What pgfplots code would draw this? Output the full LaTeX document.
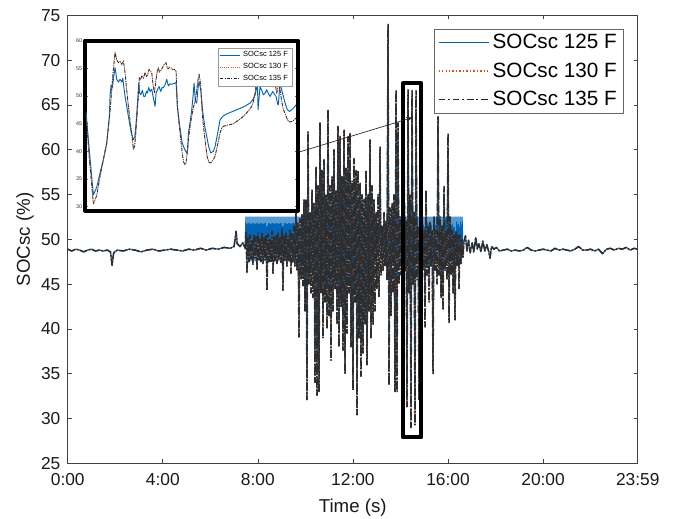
\documentclass[border=0pt]{standalone}
\usepackage{fontspec}
\setmainfont{Liberation Sans}
\usepackage{pgfplots}
\usepackage{pgfplotstable}
\pgfplotsset{compat=1.18}
\usetikzlibrary{arrows.meta}
\definecolor{mblue}{RGB}{0,100,185}
\definecolor{morange}{RGB}{217,83,25}
\definecolor{mblack}{RGB}{45,45,45}

\pgfplotstableread{
t a c
0 48.9 48.9
10 48.7 48.7
20 48.9 48.9
30 48.8 48.8
40 48.6 48.6
50 48.8 48.8
60 48.9 48.9
70 48.7 48.7
80 48.8 48.8
90 48.7 48.7
100 48.8 48.8
108 48.6 48.6
112 47.1 47.1
116 48.5 48.5
125 48.8 48.8
140 48.7 48.7
155 48.9 48.9
170 48.8 48.8
185 48.6 48.6
200 48.8 48.8
215 48.9 48.9
230 48.7 48.7
245 48.8 48.8
260 48.9 48.9
275 48.8 48.8
290 48.7 48.7
305 48.9 48.9
320 48.8 48.8
335 49.0 49.0
350 48.8 48.8
365 49.0 49.0
380 48.9 48.9
395 49.1 49.1
410 49.0 49.0
420 49.2 49.2
425 50.9 50.9
428 49.5 49.5
435 49.2 49.2
442 49.6 49.6
448 49.0 49.0
450.0 52.5 50.8
452.5 47.6 46.2
455.1 52.5 50.2
457.6 47.6 47.5
460.1 52.5 50.5
462.6 47.6 47.8
465.2 52.5 50.0
467.7 47.6 47.2
470.2 52.5 50.6
472.7 47.6 47.9
475.3 52.5 50.3
477.8 47.6 46.6
480.3 52.5 50.7
482.8 47.6 47.6
485.4 52.5 50.1
487.9 47.6 47.5
490.4 52.5 50.8
492.9 47.6 47.3
495.5 52.5 50.2
498.0 47.6 47.7
500.5 52.5 50.5
503.0 46.0 44.3
505.6 52.5 50.6
508.1 47.6 47.5
510.6 52.5 50.0
513.1 47.6 47.4
515.7 52.5 50.9
518.2 47.6 46.2
520.7 52.5 50.3
523.2 47.6 47.6
525.8 52.5 50.4
528.3 47.6 47.3
530.8 52.5 50.7
533.3 47.6 47.8
535.9 52.5 50.2
538.4 47.6 47.4
540.9 52.5 51.2
543.4 46.0 44.3
546.0 52.5 50.5
548.5 47.6 47.6
551.0 52.5 50.8
553.5 47.6 47.0
556.1 52.5 50.3
558.6 47.6 47.5
561.1 52.5 51.0
563.6 47.6 46.2
566.2 52.5 50.6
568.7 47.6 47.4
571.2 52.5 51.5
573.7 47.6 47.0
576.3 53.0 53.6
578.8 47.6 46.5
581.3 52.5 51.8
583.8 41.5 39.1
586.4 52.5 52.3
588.9 47.0 45.5
591.4 52.5 52.8
593.9 46.5 44.8
596.5 54.0 54.4
599.0 44.0 42.0
601.5 54.0 54.4
604.0 34.6 32.1
606.6 60.5 62.0
609.1 47.0 45.0
611.6 52.5 53.0
614.1 46.0 44.0
616.7 55.0 55.5
619.2 45.5 43.5
621.7 53.5 54.0
624.2 36.5 34.0
626.8 57.0 58.1
629.3 35.0 32.6
631.8 55.0 56.0
634.3 35.5 33.0
636.9 61.5 63.0
639.4 46.0 44.0
641.9 56.5 57.7
644.4 41.5 39.0
647.0 57.5 58.9
649.5 45.0 43.0
652.0 54.5 55.0
654.5 42.0 40.0
657.1 62.5 64.5
659.6 43.5 41.5
662.1 55.0 56.0
664.6 39.0 36.5
667.2 56.0 57.0
669.7 44.0 42.0
672.2 58.5 60.0
674.7 46.5 44.5
677.3 55.0 55.5
679.8 42.5 40.5
682.3 61.0 62.6
684.8 40.5 38.0
687.4 60.0 61.5
689.9 44.5 42.5
692.4 56.0 57.0
694.9 40.0 37.6
697.5 60.5 62.2
700.0 37.5 35.0
702.5 57.0 58.0
705.0 41.5 39.5
707.6 60.0 61.5
710.1 46.0 44.0
712.6 60.5 61.9
715.1 40.5 38.0
717.7 55.5 56.5
720.2 35.5 33.2
722.7 58.0 59.0
725.2 45.0 43.0
727.8 56.5 57.7
730.3 33.0 30.4
732.8 56.5 57.7
735.3 41.5 39.0
737.9 55.5 56.3
740.4 37.0 34.7
742.9 54.5 55.0
745.4 39.5 37.3
748.0 54.0 54.5
750.5 42.5 40.5
753.0 56.5 57.7
755.5 38.5 36.0
758.1 54.5 55.0
760.6 44.0 42.0
763.1 59.5 61.1
765.6 41.5 39.0
768.2 55.0 56.0
770.7 43.0 40.5
773.2 53.5 54.5
775.7 48.0 42.0
778.3 52.0 53.0
780.8 48.3 44.5
783.3 51.8 55.0
785.8 48.5 43.6
788.4 58.5 60.3
790.9 48.2 46.0
793.4 51.5 51.5
795.9 48.6 46.5
798.5 52.0 53.0
801.0 48.4 47.0
803.5 51.6 52.0
806.0 47.6 45.5
808.6 71.5 74.0
811.1 36.0 33.7
813.6 52.5 53.5
816.1 44.0 41.5
818.7 53.0 54.0
821.2 47.6 44.0
823.7 54.0 55.0
826.2 35.5 33.0
828.8 64.5 66.7
831.3 35.5 33.0
833.8 61.5 63.0
836.3 47.6 45.0
838.9 52.5 52.5
841.4 47.6 46.0
843.9 52.5 51.0
846.4 33.5 30.5
849.0 58.0 60.0
851.5 47.6 46.5
854.0 52.5 52.0
856.5 34.0 31.3
859.1 64.5 66.7
861.6 46.5 44.0
864.1 54.0 55.0
866.6 32.0 29.0
869.2 64.5 66.6
871.7 47.6 45.0
874.2 52.5 53.0
876.7 32.0 29.3
879.3 64.5 66.6
881.8 47.6 45.5
884.3 52.5 51.5
886.8 34.5 32.1
889.4 54.5 55.5
891.9 47.6 46.0
894.4 52.5 52.0
896.9 47.6 46.5
899.5 52.5 51.0
902.0 42.5 40.2
904.5 54.5 55.5
907.0 47.6 46.0
909.6 52.5 51.5
912.1 45.0 43.0
914.6 52.5 52.0
917.1 47.6 47.0
919.7 52.5 51.0
922.2 37.5 35.0
924.7 52.5 52.5
927.2 47.6 46.5
929.8 52.5 51.0
932.3 47.0 45.0
934.8 62.0 63.7
937.3 47.6 46.0
939.9 52.5 52.5
942.4 45.5 43.5
944.9 52.5 51.5
947.4 44.0 42.1
950.0 55.0 55.9
952.5 47.6 46.5
955.0 52.5 51.0
957.5 47.6 45.5
960.1 60.0 61.8
962.6 43.0 40.7
965.1 52.5 52.5
967.6 47.6 46.0
970.2 52.5 51.0
972.7 46.0 44.0
975.2 52.5 50.5
977.7 43.5 41.0
980.3 52.5 51.0
982.8 47.6 47.0
985.3 52.5 50.5
987.8 46.5 44.5
990.4 52.5 50.5
992.9 47.6 47.3
995.4 52.5 50.0
997.9 48.5 48.0
1000 49.6 49.6
1004 50.4 50.4
1008 48.7 48.7
1012 49.9 49.9
1016 48.5 48.5
1021 49.6 49.6
1025 48.6 48.6
1030 50.2 50.2
1034 48.9 48.9
1038 49.5 49.5
1043 48.6 48.6
1048 49.8 49.8
1053 48.7 48.7
1058 49.4 49.4
1063 48.6 48.6
1066 47.9 47.9
1070 49.2 49.2
1076 48.9 48.9
1082 49.1 49.1
1090 48.7 48.7
1100 48.8 48.8
1110 48.9 48.9
1120 48.7 48.7
1130 48.8 48.8
1140 48.7 48.7
1150 48.8 48.8
1160 49.1 49.1
1170 48.8 48.8
1180 48.7 48.7
1190 48.8 48.8
1200 48.9 48.9
1210 48.8 48.8
1220 48.7 48.7
1230 49.0 49.0
1240 48.8 48.8
1250 48.9 48.9
1260 48.8 48.8
1270 48.7 48.7
1280 48.9 48.9
1290 49.2 49.2
1300 48.8 48.8
1310 48.8 48.8
1320 48.9 48.9
1330 48.7 48.7
1340 48.9 48.9
1350 48.4 48.4
1360 48.9 48.9
1370 49.0 49.0
1380 48.8 48.8
1390 49.0 49.0
1400 48.9 48.9
1410 49.1 49.1
1420 48.8 48.8
1430 49.0 49.0
1439 48.9 48.9
}\maindata

\pgfplotstableread{
x c
108 46.6
118 38.5
130 30.5
140 32.0
150 35.5
160 38.5
170 41.5
178 46.0
183 49.5
188 53.5
195 57.9
200 56.5
205 56.0
210 56.2
215 55.7
220 56.3
225 54.2
230 51.0
235 48.1
240 45.5
245 43.3
250 40.3
254 41.0
258 43.9
262 47.5
265 49.9
268 53.3
272 53.0
275 53.6
280 53.2
285 54.2
289 53.5
293 53.9
297 54.8
300 54.5
305 54.2
309 52.0
313 50.5
318 53.0
322 54.6
325 55.1
328 54.3
332 54.5
336 55.0
340 55.4
344 55.8
348 56.0
352 55.0
355 54.9
358 55.2
362 55.1
366 54.8
372 54.8
378 54.5
382 48.1
387 45.0
392 42.1
396 40.0
400 38.2
404 37.6
408 37.9
412 40.0
415 42.1
420 44.5
425 46.3
430 48.0
435 49.0
440 51.1
444 53.0
447 53.9
450 52.8
452 51.7
455 48.5
458 45.7
462 43.5
465 42.1
468 40.5
472 38.8
477 38.0
482 37.9
488 38.3
495 39.1
502 41.0
510 43.3
515 44.2
520 44.5
530 44.7
540 44.8
550 45.0
560 45.4
570 45.8
585 46.6
595 47.3
605 48.1
610 49.0
615 50.5
618 52.0
622 53.0
628 54.2
635 53.0
640 52.5
645 52.0
650 52.9
655 53.0
660 52.3
665 51.7
670 51.6
675 52.3
680 50.5
685 52.0
690 51.0
695 49.0
700 47.5
705 46.9
710 46.0
715 45.4
720 45.3
728 45.4
733 45.7
738 46.0
}\insetblack

\pgfplotstableread{
x a
108 47.0
118 40.0
130 32.1
140 33.5
150 36.1
160 38.5
170 41.5
178 46.5
180 50.0
183 52.0
187 51.5
191 53.5
195 55.1
200 53.0
205 52.5
210 53.0
215 52.5
218 53.2
225 49.9
235 46.3
243 43.5
250 42.1
254 42.5
258 45.1
262 48.5
266 52.3
269 50.5
272 50.2
277 51.0
281 49.9
285 49.9
289 50.8
292 50.5
296 51.5
300 50.8
305 51.2
310 49.6
315 48.1
318 50.5
322 51.1
327 51.7
332 50.8
336 51.5
340 51.5
345 52.0
350 53.0
355 51.8
360 52.2
365 52.1
370 52.2
378 52.4
382 48.1
387 45.5
392 43.3
396 41.6
400 40.9
405 40.2
410 39.7
413 40.5
415 43.3
420 45.2
425 47.5
429 50.0
432 52.3
436 49.0
440 48.7
444 51.5
447 52.6
452 51.1
458 47.2
464 44.5
470 42.7
476 40.8
482 39.7
490 40.0
495 40.9
502 43.0
510 45.7
518 46.3
525 46.6
540 47.0
560 47.5
580 48.0
600 48.7
610 49.5
615 50.2
620 51.5
622 52.3
624 47.5
626 49.0
630 51.7
635 51.0
640 50.2
645 50.5
650 51.1
655 50.4
660 49.9
668 50.8
673 50.3
678 49.9
683 48.5
685 48.4
688 51.0
690 52.3
695 51.0
700 49.9
706 48.5
712 47.5
718 47.2
725 47.5
732 47.9
738 48.4
}\insetblue

\begin{document}
\begin{tikzpicture}
\path[use as bounding box] (-50.8pt,-41pt) rectangle (454.7pt,347.5pt);
\begin{axis}[
  at={(0pt,0pt)}, anchor=south west,
  width=427.5pt, height=336pt, scale only axis,
  xmin=0, xmax=1439, ymin=25, ymax=75,
  xtick={0,240,480,720,960,1200,1439},
  xticklabels={0:00,4:00,8:00,12:00,16:00,20:00,23:59},
  ytick={25,30,...,75},
  tick align=inside, major tick length=3pt,
  axis line style={black!75, line width=0.5pt},
  tick style={black!75, line width=0.5pt},
  /pgf/number format/assume math mode=true,
  ticklabel style={font=\fontsize{13}{15}\selectfont, text=black!90},
  xticklabel style={yshift=-4pt},
  yticklabel style={xshift=-2pt},
  xlabel={Time (s)}, ylabel={SOCsc (\%)},
  label style={font=\fontsize{14}{16}\selectfont, text=black!90},
  xlabel style={at={(axis description cs:0.5,-0.1)}, anchor=center},
  ylabel style={at={(axis description cs:-0.075,0.5)}, anchor=center},
  legend style={at={(axis description cs:0.9754,0.970)}, anchor=north east,
    font=\fontsize{15.5}{18}\selectfont, draw=black!60, line width=0.5pt,
    fill=white, inner xsep=3pt, inner ysep=2pt, row sep=5pt},
  legend cell align=left,
  legend image code/.code={\draw[#1] (0pt,0pt) -- (38pt,0pt);},
  line join=round,
]
\addplot[mblue, line width=0.9pt, forget plot] table[x=t, y=a] {\maindata};
\addplot[morange, line width=0.75pt, dash pattern=on 0.8pt off 2pt, forget plot] table[x=t, y=c] {\maindata};
\addplot[mblack, line width=1.15pt, dash pattern=on 6pt off 1.3pt on 1.2pt off 1.3pt, forget plot] table[x=t, y=c] {\maindata};
\addlegendimage{mblue, line width=1.1pt}
\addlegendentry{SOCsc 125 F}
\addlegendimage{morange, line width=1pt, dash pattern=on 1pt off 1.6pt}
\addlegendentry{SOCsc 130 F}
\addlegendimage{black!85, line width=1.1pt, dash pattern=on 5pt off 2.2pt on 1.2pt off 2.2pt}
\addlegendentry{SOCsc 135 F}
\draw[black, line width=3pt] (axis cs:846,27.9) rectangle (axis cs:893,67.4);
\draw[black!85, line width=0.5pt, -{Stealth[length=5pt,width=3.5pt]}] (axis cs:581,59.7) -- (axis cs:871,63.6);
\end{axis}

\begin{axis}[
  at={(13pt,189.6pt)}, anchor=south west,
  width=159.75pt, height=127.5pt, scale only axis,
  xmin=105, xmax=744, ymin=29.3, ymax=60,
  xtick=\empty, ytick={30,35,...,60},
  axis background/.style={fill=white},
  axis line style={line width=3pt, black},
  tick align=inside, major tick length=2pt,
  tick style={line width=0.3pt, black!60},
  /pgf/number format/assume math mode=true,
  yticklabel style={font=\fontsize{4}{5}\selectfont, inner sep=0.5pt, xshift=-1.5pt, text=black!80},
  legend style={at={(axis description cs:0.972,0.956)}, anchor=north east,
    font=\fontsize{5.6}{6.5}\selectfont, draw=black!40, line width=0.3pt,
    fill=white, inner xsep=1pt, inner ysep=0.5pt, row sep=-0.5pt},
  legend cell align=left,
  legend image code/.code={\draw[#1] (0pt,0pt) -- (15pt,0pt);},
  line join=round,
]
\addplot[mblue, line width=0.7pt, forget plot] table[x=x, y=a] {\insetblue};
\addplot[morange, line width=0.6pt, dash pattern=on 0.6pt off 0.8pt, forget plot] table[x=x, y=c] {\insetblack};
\addplot[mblack, line width=0.6pt, dash pattern=on 2.5pt off 1pt on 0.6pt off 1pt, forget plot] table[x=x, y=c] {\insetblack};
\addlegendimage{mblue, line width=0.8pt}
\addlegendentry{SOCsc 125 F}
\addlegendimage{morange, line width=0.7pt, dash pattern=on 0.7pt off 0.9pt}
\addlegendentry{SOCsc 130 F}
\addlegendimage{black!85, line width=0.7pt, dash pattern=on 2.5pt off 1pt on 0.7pt off 1pt}
\addlegendentry{SOCsc 135 F}
\end{axis}
\end{tikzpicture}
\end{document}
